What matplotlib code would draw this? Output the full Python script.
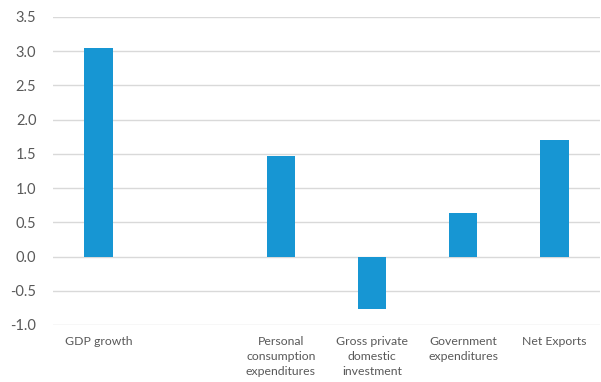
import matplotlib
matplotlib.use("Agg")
import matplotlib.pyplot as plt

categories = ["GDP growth", "", "Personal\nconsumption\nexpenditures",
              "Gross private\ndomestic\ninvestment", "Government\nexpenditures", "Net Exports"]
values = [3.05, None, 1.47, -0.77, 0.64, 1.70]
yticks = [-1.0, -0.5, 0.0, 0.5, 1.0, 1.5, 2.0, 2.5, 3.0, 3.5]

plt.rcParams['font.family'] = ['Lato', 'DejaVu Sans']

fig = plt.figure(figsize=(6.01, 3.82), dpi=100)
ax = fig.add_axes([53/601, 1-325/382, 547/601, 308/382])

xs = [i for i, v in enumerate(values) if v is not None]
vs = [v for v in values if v is not None]
ax.bar(xs, vs, width=0.31, color='#1796D3', zorder=3)

ax.set_xlim(-0.5, len(categories)-0.5)
ax.set_ylim(-1.0, 3.5)
ax.set_yticks(yticks)
ax.set_yticklabels([f"{t:.1f}" for t in yticks], fontsize=10.5, color='#595959')
ax.set_xticks(range(len(categories)))
ax.set_xticklabels(categories, fontsize=8.8, color='#595959', va='top', linespacing=1.45)
ax.tick_params(axis='both', length=0)
ax.tick_params(axis='y', pad=12)
ax.tick_params(axis='x', pad=8)
ax.grid(axis='y', color='#D9D9D9', linewidth=1, zorder=0)
for s in ax.spines.values():
    s.set_visible(False)

fig.savefig("out.png", dpi=100)
